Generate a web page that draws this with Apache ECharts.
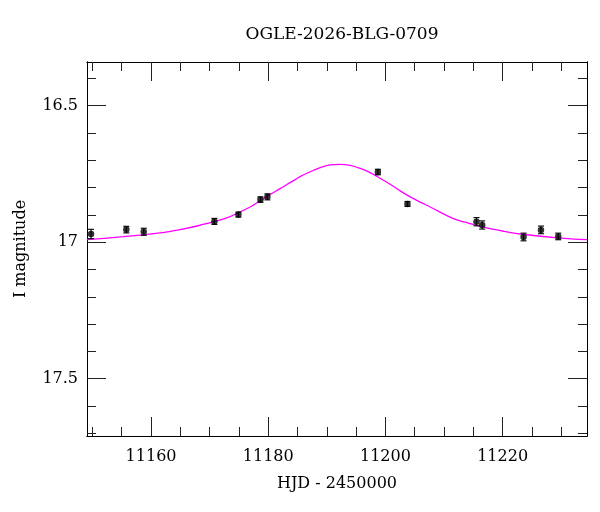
<!DOCTYPE html>
<html>
<head>
<meta charset="utf-8">
<script src="https://cdn.jsdelivr.net/npm/echarts@6/dist/echarts.min.js"></script>
<style>
  html, body { margin: 0; padding: 0; background: #fff; }
  #chart { width: 600px; height: 512px; }
</style>
</head>
<body>
<div id="chart"></div>
<script>
// observed points
const hjd = [11149.76, 11155.78, 11158.75, 11170.81, 11174.91, 11178.67, 11179.86,
  11198.71, 11203.76, 11215.54, 11216.51, 11223.57, 11226.54, 11229.49]
const mag = [16.970, 16.954, 16.962, 16.924, 16.899, 16.844, 16.834,
  16.743, 16.860, 16.925, 16.937, 16.981, 16.955, 16.979]
const magErr = [0.017, 0.012, 0.013, 0.011, 0.009, 0.010, 0.011,
  0.010, 0.009, 0.015, 0.015, 0.014, 0.014, 0.012]

// model curve
const modelHjd = [11149.07, 11155.22, 11161.54, 11164.95, 11168.37, 11172.92,
  11176.90, 11178.61, 11180.32, 11182.03, 11183.73, 11185.44, 11187.15, 11188.85,
  11190.56, 11192.27, 11193.98, 11195.68, 11197.39, 11199.09, 11200.80, 11202.51,
  11204.22, 11205.93, 11207.63, 11211.61, 11214.47, 11217.32, 11220.15, 11223.00,
  11229.83, 11234.44]
const modelMag = [16.991, 16.980, 16.966, 16.954, 16.938, 16.911,
  16.871, 16.848, 16.825, 16.804, 16.782, 16.760, 16.742, 16.727,
  16.717, 16.715, 16.719, 16.730, 16.745, 16.766, 16.788, 16.812,
  16.834, 16.853, 16.871, 16.914, 16.932, 16.948, 16.960, 16.970,
  16.985, 16.991]

// ticks
const xMajor = [11160, 11180, 11200, 11220]
const xMinor = [11150, 11155, 11165, 11170, 11175, 11185, 11190, 11195, 11205, 11210, 11215, 11225, 11230]
const yMajor = [16.5, 17, 17.5]
const yMinor = [16.4, 16.6, 16.7, 16.8, 16.9, 17.1, 17.2, 17.3, 17.4, 17.6, 17.7]

const FONT = 'DejaVu Serif'
const X_MIN = 11149.07, X_MAX = 11234.4
const Y_MIN = 16.34, Y_MAX = 17.71

function xAxisOf(pos, ticks, len, labels) {
  return {
    type: 'value', position: pos, min: X_MIN, max: X_MAX,
    name: labels ? 'HJD - 2450000' : '',
    nameLocation: 'middle', nameGap: 40,
    nameTextStyle: { fontFamily: FONT, fontSize: 16, color: '#000' },
    axisLine: { show: true, onZero: false, lineStyle: { color: '#000', width: 1 } },
    axisTick: { show: true, inside: true, length: len, customValues: ticks, lineStyle: { color: '#222' } },
    axisLabel: labels ? {
      show: true, customValues: ticks, margin: 13, fontFamily: FONT, fontSize: 16, color: '#000',
      formatter: v => String(v)
    } : { show: false },
    splitLine: { show: false }
  }
}

function yAxisOf(pos, ticks, len, labels) {
  return {
    type: 'value', position: pos, min: Y_MIN, max: Y_MAX, inverse: true,
    name: labels ? 'I magnitude' : '',
    nameLocation: 'middle', nameGap: 58, nameRotate: 90,
    nameTextStyle: { fontFamily: FONT, fontSize: 16, color: '#000' },
    axisLine: { show: true, onZero: false, lineStyle: { color: '#000', width: 1 } },
    axisTick: { show: true, inside: true, length: len, customValues: ticks, lineStyle: { color: '#222' } },
    axisLabel: labels ? {
      show: true, customValues: ticks, margin: 9, fontFamily: FONT, fontSize: 16, color: '#000',
      formatter: v => String(v)
    } : { show: false },
    splitLine: { show: false }
  }
}

const chart = echarts.init(document.getElementById('chart'))
chart.setOption({
  animation: false,
  backgroundColor: '#fff',
  title: {
    text: 'OGLE-2026-BLG-0709',
    left: 337, top: 21, textAlign: 'center',
    textStyle: { fontFamily: FONT, fontSize: 17, fontWeight: 'normal', color: '#000' }
  },
  grid: { left: 87, right: 13, top: 62, bottom: 76 },
  xAxis: [
    xAxisOf('bottom', xMajor, 19, true),
    xAxisOf('bottom', xMinor, 9, false),
    xAxisOf('top', xMajor, 19, false),
    xAxisOf('top', xMinor, 9, false)
  ],
  yAxis: [
    yAxisOf('left', yMajor, 19, true),
    yAxisOf('left', yMinor, 9, false),
    yAxisOf('right', yMajor, 19, false),
    yAxisOf('right', yMinor, 9, false)
  ],
  series: [
    {
      // 模型曲线
      type: 'line',
      data: modelHjd.map((x, i) => [x, modelMag[i]]),
      smooth: 0.3,
      showSymbol: false,
      lineStyle: { color: '#ff00ff', width: 1.3 },
      z: 2
    },
    {
      // 误差棒
      type: 'custom',
      data: hjd.map((x, i) => [x, mag[i] - magErr[i], mag[i] + magErr[i]]),
      renderItem: function (params, api) {
        const top = api.coord([api.value(0), api.value(1)])
        const bot = api.coord([api.value(0), api.value(2)])
        const cap = 3
        const st = { stroke: '#111', lineWidth: 1.2 }
        return {
          type: 'group',
          children: [
            { type: 'line', shape: { x1: top[0], y1: top[1], x2: bot[0], y2: bot[1] }, style: st },
            { type: 'line', shape: { x1: top[0] - cap, y1: top[1], x2: top[0] + cap, y2: top[1] }, style: st },
            { type: 'line', shape: { x1: bot[0] - cap, y1: bot[1], x2: bot[0] + cap, y2: bot[1] }, style: st }
          ]
        }
      },
      z: 3
    },
    {
      type: 'scatter',
      data: hjd.map((x, i) => [x, mag[i]]),
      symbolSize: 6.5,
      itemStyle: { color: '#000' },
      z: 4
    }
  ]
})
</script>
</body>
</html>
